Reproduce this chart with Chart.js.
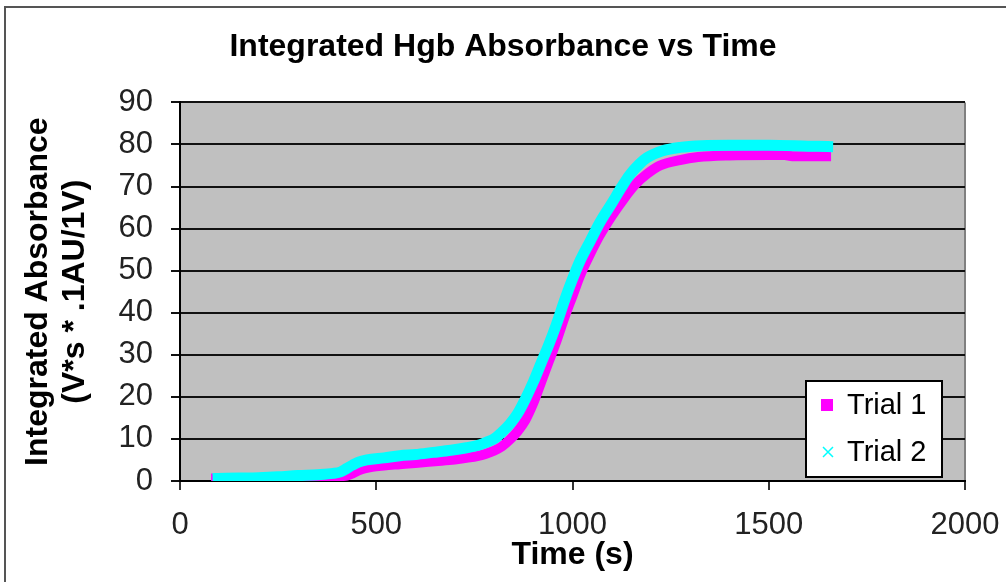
<!DOCTYPE html>
<html>
<head>
<meta charset="utf-8">
<script src="https://cdn.jsdelivr.net/npm/chart.js@4.4.0/dist/chart.umd.min.js"></script>
<style>
  html, body { margin: 0; padding: 0; background: #fff; }
  #wrap { width: 1006px; height: 582px; }
</style>
</head>
<body>
<div id="wrap"><canvas id="hgbChart" width="1006" height="582"></canvas></div>
<script>
// values (time in s, absorbance in V*s*.1AU/1V)
const trial1Time = [92, 150, 200, 250, 300, 350, 400, 425, 440, 455, 470, 490, 520, 560, 600, 650, 700, 730, 760, 780, 800, 820, 840, 860, 880, 900, 920, 940, 960, 980, 1000, 1020, 1045, 1070, 1100, 1130, 1160, 1190, 1223, 1274, 1320, 1400, 1500, 1540, 1560, 1600, 1646];
const trial1Abs  = [0.6, 0.6, 0.7, 0.8, 0.9, 1.0, 1.1, 1.3, 1.8, 2.5, 3.0, 3.4, 3.7, 4.0, 4.3, 4.7, 5.1, 5.5, 6.0, 6.5, 7.2, 8.2, 9.8, 11.8, 14.5, 18.5, 23.5, 28.5, 33.5, 39, 44, 49, 54, 58.5, 63, 67, 70.5, 73, 75, 76.3, 77, 77.4, 77.5, 77.5, 77.2, 77.2, 77.2];

const trial2Time = [97, 150, 200, 250, 300, 350, 390, 410, 425, 440, 455, 476, 520, 560, 600, 645, 690, 730, 760, 780, 800, 820, 840, 860, 880, 900, 920, 940, 960, 980, 1000, 1020, 1045, 1070, 1100, 1126, 1146, 1170, 1189, 1230, 1274, 1330, 1400, 1500, 1600, 1650];
const trial2Abs  = [0.6, 0.7, 0.8, 1.0, 1.3, 1.5, 1.8, 2.2, 3.0, 3.8, 4.5, 5.0, 5.5, 6.0, 6.3, 6.8, 7.3, 7.9, 8.5, 9.2, 10.0, 11.6, 13.5, 16, 19.5, 23.5, 28, 32.5, 37.5, 43, 48, 52.5, 57, 61.5, 66, 70, 72.8, 75.3, 76.8, 78.5, 79.3, 79.7, 79.8, 79.8, 79.6, 79.5];

const seriesNames = ['Trial 1', 'Trial 2'];
const seriesColors = ['#FF00FF', '#00FFFF'];
const yTicks = [0, 10, 20, 30, 40, 50, 60, 70, 80, 90];
const xTicks = [0, 500, 1000, 1500, 2000];

const FONT = "'Liberation Sans', Arial, sans-serif";

function toPoints(xs, ys) {
  return xs.map((x, i) => ({ x: x, y: ys[i] }));
}

// grey plot area + outer frame
const backdrop = {
  id: 'backdrop',
  beforeDraw(chart) {
    const { ctx, chartArea: a } = chart;
    ctx.save();
    ctx.fillStyle = '#fff';
    ctx.fillRect(0, 0, chart.width, chart.height);
    ctx.strokeStyle = '#555';
    ctx.lineWidth = 2;
    ctx.strokeRect(5, 7, chart.width + 10, chart.height + 10);
    ctx.fillStyle = '#C0C0C0';
    ctx.fillRect(a.left, a.top, a.right - a.left, a.bottom - a.top);
    ctx.strokeStyle = '#808080';
    ctx.beginPath();
    ctx.moveTo(a.right, a.top);
    ctx.lineTo(a.right, a.bottom);
    ctx.stroke();
    ctx.restore();
  }
};

// excel style legend box inside the plot
const boxLegend = {
  id: 'boxLegend',
  afterDraw(chart) {
    const ctx = chart.ctx;
    const left = 806, top = 381, w = 136, h = 96;
    ctx.save();
    ctx.fillStyle = '#fff';
    ctx.fillRect(left, top, w, h);
    ctx.strokeStyle = '#000';
    ctx.lineWidth = 2;
    ctx.strokeRect(left, top, w, h);
    ctx.font = '29px ' + FONT;
    ctx.textBaseline = 'middle';
    ctx.textAlign = 'left';
    chart.data.datasets.forEach((ds, i) => {
      const cy = top + 24 + i * 47;
      if (i === 0) {
        ctx.fillStyle = ds.borderColor;
        ctx.fillRect(821, cy - 6, 12, 12);
      } else {
        ctx.strokeStyle = ds.borderColor;
        ctx.lineWidth = 1.5;
        ctx.beginPath();
        ctx.moveTo(823, cy - 5); ctx.lineTo(833, cy + 5);
        ctx.moveTo(833, cy - 5); ctx.lineTo(823, cy + 5);
        ctx.stroke();
      }
      ctx.fillStyle = '#000';
      ctx.fillText(ds.label, 847, cy + 1);
    });
    ctx.restore();
  }
};

const ctx = document.getElementById('hgbChart').getContext('2d');

const chart = new Chart(ctx, {
  type: 'scatter',
  data: {
    datasets: [{
      label: seriesNames[0],
      data: toPoints(trial1Time, trial1Abs),
      borderColor: seriesColors[0],
      backgroundColor: seriesColors[0],
      showLine: true,
      borderWidth: 10,
      borderCapStyle: 'square',
      borderJoinStyle: 'round',
      pointRadius: 0,
      pointStyle: 'rect',
      cubicInterpolationMode: 'monotone',
      order: 1
    }, {
      label: seriesNames[1],
      data: toPoints(trial2Time, trial2Abs),
      borderColor: seriesColors[1],
      backgroundColor: seriesColors[1],
      showLine: true,
      borderWidth: 11,
      borderCapStyle: 'square',
      borderJoinStyle: 'round',
      pointRadius: 0,
      pointStyle: 'crossRot',
      cubicInterpolationMode: 'monotone',
      order: 0
    }]
  },
  options: {
    responsive: false,
    animation: false,
    layout: { padding: 0 },
    plugins: {
      legend: { display: false },
      tooltip: { enabled: false },
      title: {
        display: true,
        text: 'Integrated Hgb Absorbance vs Time',
        color: '#000',
        font: { family: FONT, size: 32, weight: 'bold', lineHeight: 1.2 },
        padding: { top: 28, bottom: 36 }
      }
    },
    scales: {
      x: {
        type: 'linear',
        min: 0,
        max: 2000,
        afterBuildTicks: (s) => { s.ticks = xTicks.map(v => ({ value: v })); },
        afterFit: (s) => { s.height = 101; s.paddingLeft = 0; s.paddingRight = 0; },
        grid: { drawOnChartArea: false, drawTicks: true, tickLength: 9, color: '#333', lineWidth: 2 },
        border: { display: true, color: '#000', width: 2 },
        ticks: { color: '#222', padding: 17, maxRotation: 0, font: { family: FONT, size: 31 }, callback: (v) => String(v) },
        title: {
          display: true,
          text: 'Time (s)',
          color: '#000',
          font: { family: FONT, size: 32, weight: 'bold', lineHeight: 1.2 },
          padding: { top: 0, bottom: 8 }
        }
      },
      y: {
        type: 'linear',
        min: 0,
        max: 90,
        afterBuildTicks: (s) => { s.ticks = yTicks.map(v => ({ value: v })); },
        afterFit: (s) => { s.width = 180; },
        grid: { color: '#111', lineWidth: 2, drawTicks: true, tickLength: 9 },
        border: { display: true, color: '#000', width: 2 },
        ticks: { color: '#222', padding: 18, font: { family: FONT, size: 31 }, callback: (v) => String(v) },
        title: {
          display: true,
          text: ['Integrated Absorbance', '(V*s * .1AU/1V)'],
          color: '#000',
          font: { family: FONT, size: 32, weight: 'bold', lineHeight: 1.156 },
          padding: { top: 19.5, bottom: 0 }
        }
      },
      // empty spacer on the right so the plot ends where the original does
      spacer: {
        type: 'linear',
        axis: 'y',
        position: 'right',
        display: true,
        grid: { display: false, drawTicks: false },
        border: { display: false },
        ticks: { display: false },
        afterFit: (s) => { s.width = 41; }
      }
    }
  },
  plugins: [backdrop, boxLegend]
});
</script>
</body>
</html>
